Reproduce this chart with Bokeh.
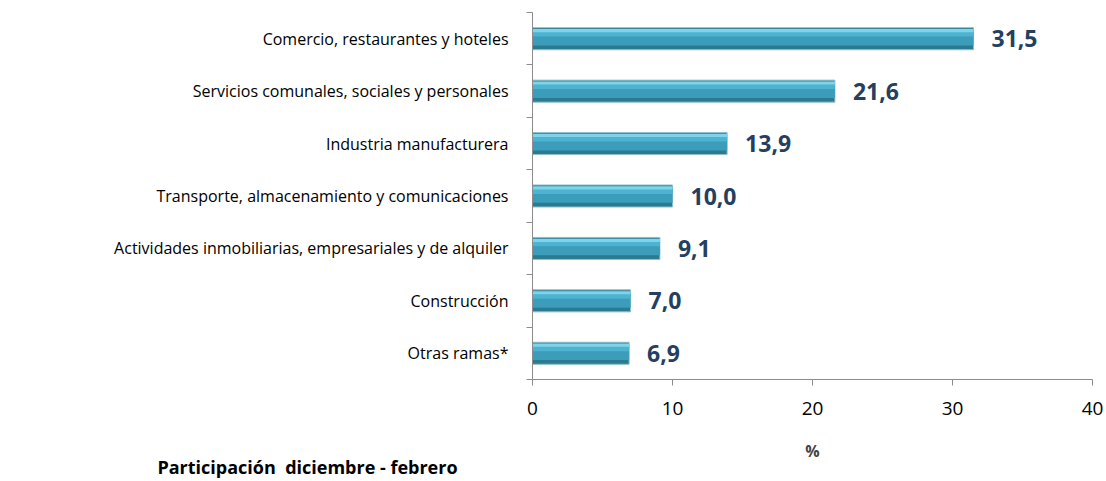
from bokeh.plotting import figure
from bokeh.models import ColumnDataSource, FixedTicker, Range1d, Div
from bokeh.layouts import column
from bokeh.transform import dodge
from bokeh.core.properties import value
from bokeh.embed import file_html
from bokeh.resources import INLINE

categories = [
    "Comercio, restaurantes y hoteles",
    "Servicios comunales, sociales y personales",
    "Industria manufacturera",
    "Transporte, almacenamiento y comunicaciones",
    "Actividades inmobiliarias, empresariales y de alquiler",
    "Construcción",
    "Otras ramas*",
]
values = [31.5, 21.6, 13.9, 10.0, 9.1, 7.0, 6.9]
x_ticks = [0, 10, 20, 30, 40]
footer = "Participación&nbsp; diciembre - febrero"

n = len(categories)
ys = [n - i - 0.5 for i in range(n)]
labels = [f"{v:.1f}".replace(".", ",") for v in values]

src = ColumnDataSource(dict(y=ys, v=values, lab=labels, cat=categories))

p = figure(width=1106, height=464, output_backend="svg", toolbar_location=None,
           x_range=Range1d(0, 40), y_range=Range1d(0, n),
           min_border_left=532, min_border_right=14, min_border_top=12, min_border_bottom=80)
p.outline_line_color = None
p.grid.grid_line_color = None
p.background_fill_color = "white"

yr = p.y_range
# bevelled bar effect
p.hbar(y="y", left=0, right="v", height=0.42, source=src,
       fill_color="#2B7A90", line_color="#8fbfcc", line_width=1)
p.hbar(y=dodge("y", 0.02, range=yr), left=0, right="v", height=0.30, source=src,
       fill_color="#3B9DBA", line_color=None)
p.hbar(y=dodge("y", 0.10, range=yr), left=0, right="v", height=0.12, source=src,
       fill_color="#4DB3D0", line_color=None)
p.hbar(y=dodge("y", 0.155, range=yr), left=0, right="v", height=0.06, source=src,
       fill_color="#7ED4EA", line_color=None)

p.text(x="v", y="y", text="lab", source=src, x_offset=18, text_baseline="middle",
       text_align="left", text_font=value("Open Sans"), text_font_style="bold",
       text_font_size="23px", text_color="#243F60")

# axes
ax = p.xaxis[0]
ax.ticker = FixedTicker(ticks=x_ticks)
ax.axis_line_color = "#8c8c8c"
ax.major_tick_line_color = "#8c8c8c"
ax.major_tick_out = 6
ax.major_tick_in = 0
ax.minor_tick_line_color = None
ax.major_label_text_font = "Open Sans"
ax.major_label_text_font_size = "19px"
ax.major_label_text_color = "#000000"
ax.major_label_standoff = 16
ax.axis_label = "%"
ax.axis_label_text_font = "Open Sans"
ax.axis_label_text_font_style = "bold"
ax.axis_label_text_font_size = "16px"
ax.axis_label_standoff = 22

ya = p.yaxis[0]
ya.ticker = FixedTicker(ticks=ys, minor_ticks=list(range(n + 1)))
ya.major_label_overrides = {y: c for y, c in zip(ys, categories)}
ya.axis_line_color = "#8c8c8c"
ya.major_tick_line_color = None
ya.minor_tick_line_color = "#8c8c8c"
ya.minor_tick_out = 6
ya.minor_tick_in = 0
ya.major_label_text_font = "Open Sans"
ya.major_label_text_font_size = "16px"
ya.major_label_text_color = "#000000"
ya.major_label_standoff = 18

div = Div(text=footer, width=375, height=22, margin=(-8, 0, 0, 120),
          styles={"text-align": "center", "font-family": "Open Sans",
                  "font-weight": "bold", "font-size": "18px", "color": "#000000",
                  "line-height": "22px"})

layout = column(p, div, spacing=0)
open("out.html", "w").write(file_html(layout, INLINE))
